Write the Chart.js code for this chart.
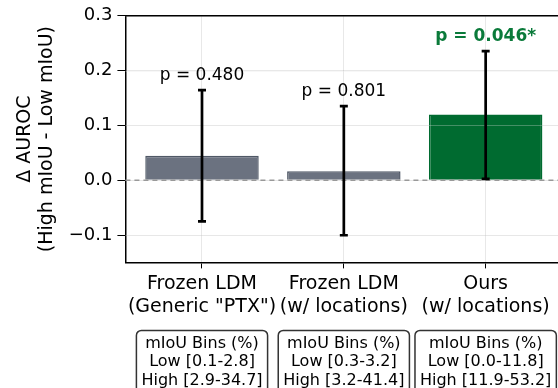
<!DOCTYPE html>
<html>
<head>
<meta charset="utf-8">
<script src="https://cdn.jsdelivr.net/npm/chart.js@4.4.1/dist/chart.umd.min.js"></script>
<style>
  html, body { margin: 0; padding: 0; background: #fff; }
  #wrap { width: 558px; height: 388px; }
</style>
</head>
<body>
<div id="wrap"><canvas id="myChart" width="558" height="388"></canvas></div>
<script>
const categories = [['Frozen LDM', '(Generic "PTX")'], ['Frozen LDM', '(w/ locations)'], ['Ours', '(w/ locations)']];
const deltas = [0.0445, 0.0165, 0.120];
const errLow = [-0.075, -0.1005, 0.0025];
const errHigh = [0.1645, 0.135, 0.2355];
const pLabels = ['p = 0.480', 'p = 0.801', 'p = 0.046*'];
const binLabels = [
  ['mIoU Bins (%)', 'Low [0.1-2.8]', 'High [2.9-34.7]'],
  ['mIoU Bins (%)', 'Low [0.3-3.2]', 'High [3.2-41.4]'],
  ['mIoU Bins (%)', 'Low [0.0-11.8]', 'High [11.9-53.2]']
];
const yTicks = [-0.1, 0.0, 0.1, 0.2, 0.3];

const FONT = 'DejaVu Sans';
const barColors = ['#6b7280', '#6b7280', '#006b30'];
const edgeColors = ['#4f5866', '#4f5866', '#006b30'];

const extras = {
  id: 'extras',
  afterDatasetsDraw(chart) {
    const {ctx, chartArea, scales: {x, y}} = chart;
    ctx.save();
    // faint grid over the bars
    ctx.strokeStyle = 'rgba(230,230,230,0.3)';
    ctx.lineWidth = 1;
    yTicks.forEach(t => {
      const py = Math.round(y.getPixelForValue(t)) + 0.5;
      ctx.beginPath();
      ctx.moveTo(chartArea.left, py);
      ctx.lineTo(chartArea.right, py);
      ctx.stroke();
    });
    // zero line
    const y0 = y.getPixelForValue(0);
    ctx.strokeStyle = '#999';
    ctx.lineWidth = 1.5;
    ctx.setLineDash([5, 4]);
    ctx.beginPath();
    ctx.moveTo(chartArea.left, y0);
    ctx.lineTo(chartArea.right, y0);
    ctx.stroke();
    ctx.setLineDash([]);
    // error bars
    ctx.strokeStyle = '#000';
    ctx.lineWidth = 2.7;
    deltas.forEach((d, i) => {
      const px = x.getPixelForValue(i);
      const yl = y.getPixelForValue(errLow[i]);
      const yh = y.getPixelForValue(errHigh[i]);
      ctx.beginPath();
      ctx.moveTo(px, yl); ctx.lineTo(px, yh);
      ctx.moveTo(px - 4, yl); ctx.lineTo(px + 4, yl);
      ctx.moveTo(px - 4, yh); ctx.lineTo(px + 4, yh);
      ctx.stroke();
      // p-value text
      const sig = pLabels[i].endsWith('*');
      ctx.font = (sig ? 'bold ' : '') + '17px "' + FONT + '"';
      ctx.fillStyle = sig ? '#0a7a3a' : '#000';
      ctx.textAlign = 'center';
      ctx.textBaseline = 'alphabetic';
      ctx.fillText(pLabels[i], px, yh - 10);
    });
    ctx.restore();
  },
  afterDraw(chart) {
    const {ctx, chartArea, scales: {x}} = chart;
    ctx.save();
    // top spine
    ctx.strokeStyle = '#000';
    ctx.lineWidth = 1.5;
    ctx.beginPath();
    ctx.moveTo(chartArea.left, chartArea.top);
    ctx.lineTo(chartArea.right, chartArea.top);
    ctx.stroke();
    // bin boxes
    ctx.font = '16px "' + FONT + '"';
    ctx.textAlign = 'center';
    ctx.textBaseline = 'middle';
    binLabels.forEach((lines, i) => {
      const px = x.getPixelForValue(i);
      const w = Math.max(...lines.map(l => ctx.measureText(l).width)) + 10;
      const top = chartArea.bottom + 68;
      ctx.strokeStyle = '#333';
      ctx.lineWidth = 1.5;
      ctx.beginPath();
      ctx.roundRect(px - w / 2, top, w, 80, 5);
      ctx.stroke();
      ctx.fillStyle = '#000';
      lines.forEach((l, k) => ctx.fillText(l, px, top + 13 + k * 18.5));
    });
    ctx.restore();
  }
};

new Chart(document.getElementById('myChart'), {
  type: 'bar',
  data: {
    datasets: [{
      data: deltas.map((v, i) => ({x: i, y: v})),
      backgroundColor: barColors,
      borderColor: edgeColors,
      borderWidth: 1.5,
      barPercentage: 1,
      categoryPercentage: 0.8
    }]
  },
  options: {
    responsive: false,
    animation: false,
    layout: { padding: { left: 8, right: 0, top: 8, bottom: 66 } },
    plugins: { legend: { display: false }, tooltip: { enabled: false } },
    scales: {
      x: {
        type: 'linear',
        offset: false,
        min: -0.54,
        max: 2.51,
        afterBuildTicks(scale) { scale.ticks = categories.map((c, i) => ({value: i})); },
        ticks: {
          callback: v => categories[v],
          color: '#000',
          font: { family: FONT, size: 19 },
          maxRotation: 0,
          autoSkip: false,
          padding: 4
        },
        grid: { offset: false, color: 'rgba(0,0,0,0.09)', tickColor: '#000', tickLength: 6 },
        border: { color: '#000', width: 1.5 }
      },
      y: {
        min: -0.15,
        max: 0.3,
        afterBuildTicks(scale) { scale.ticks = yTicks.map(v => ({value: v})); },
        ticks: {
          callback: v => v.toFixed(1).replace('-', '\u2212'),
          color: '#000',
          font: { family: FONT, size: 18 },
          padding: 5
        },
        grid: { color: 'rgba(0,0,0,0.09)', tickColor: '#000', tickLength: 8 },
        border: { color: '#000', width: 1.5 },
        title: {
          display: true,
          text: ['\u0394 AUROC', '(High mIoU - Low mIoU)'],
          color: '#000',
          font: { family: FONT, size: 19, lineHeight: 1.15 },
          padding: 6
        }
      }
    }
  },
  plugins: [extras]
});
</script>
</body>
</html>
